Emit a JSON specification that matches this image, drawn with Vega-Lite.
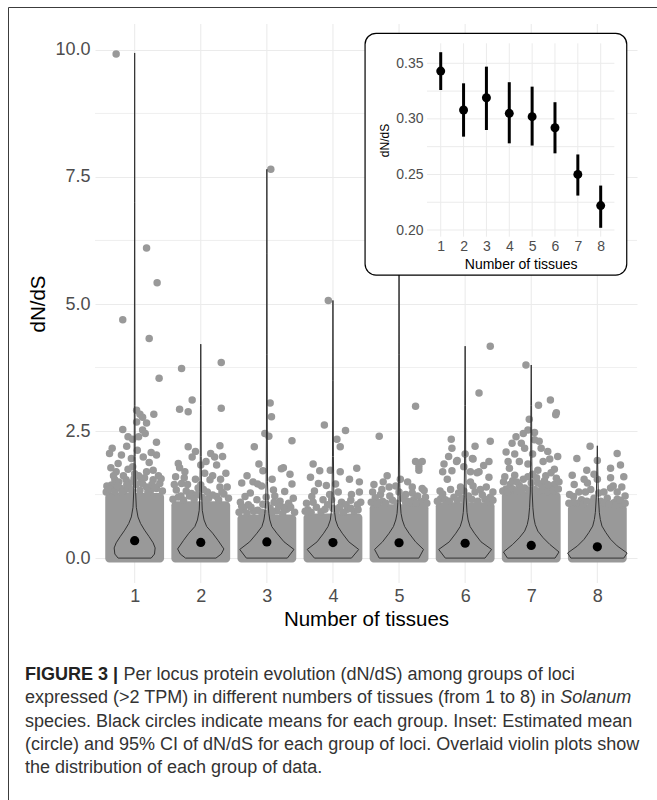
{
  "$schema": "https://vega.github.io/schema/vega-lite/v6.json",
  "width": 649,
  "height": 793,
  "autosize": {"type": "none"},
  "padding": {"left": 8, "top": 7, "right": 0, "bottom": 0},
  "background": "white",
  "config": {"view": {"stroke": "#3c3c3c", "strokeWidth": 1}, "font": "Liberation Sans"},
  "datasets": {
    "minor": [{"y": 1.25}, {"y": 3.75}, {"y": 6.25}, {"y": 8.75}],
    "dense": [
      {"g": 1, "xl": 0.555, "xr": 1.445, "yl": -0.085, "yh": 1.28},
      {"g": 2, "xl": 1.555, "xr": 2.445, "yl": -0.085, "yh": 1.12},
      {"g": 3, "xl": 2.555, "xr": 3.445, "yl": -0.085, "yh": 0.86},
      {"g": 4, "xl": 3.555, "xr": 4.445, "yl": -0.085, "yh": 0.88},
      {"g": 5, "xl": 4.555, "xr": 5.445, "yl": -0.085, "yh": 1.06},
      {"g": 6, "xl": 5.555, "xr": 6.445, "yl": -0.085, "yh": 1.10},
      {"g": 7, "xl": 6.555, "xr": 7.445, "yl": -0.085, "yh": 1.30},
      {"g": 8, "xl": 7.555, "xr": 8.445, "yl": -0.085, "yh": 1.05}
    ],
    "pts": [
      {"x":0.72,"y":9.92},{"x":1.18,"y":6.10},{"x":1.34,"y":5.42},{"x":0.82,"y":4.69},{"x":1.22,"y":4.32},{"x":1.37,"y":3.54},
      {"x":0.82,"y":2.53},{"x":0.90,"y":2.39},{"x":0.97,"y":2.34},{"x":1.03,"y":2.91},{"x":1.08,"y":2.83},{"x":1.12,"y":2.77},{"x":1.03,"y":2.68},{"x":1.18,"y":2.66},{"x":1.12,"y":2.52},{"x":1.29,"y":2.83},{"x":1.06,"y":2.39},{"x":0.66,"y":2.16},{"x":0.62,"y":2.06},{"x":1.33,"y":2.28},{"x":1.33,"y":2.03},{"x":0.80,"y":2.03},{"x":0.95,"y":1.96},{"x":1.13,"y":1.99},{"x":0.72,"y":1.70},{"x":0.70,"y":1.54},{"x":0.87,"y":1.54},{"x":0.97,"y":1.80},{"x":1.18,"y":1.70},{"x":1.28,"y":1.73},{"x":1.10,"y":1.54},{"x":1.28,"y":1.54},{"x":1.33,"y":1.37},{"x":0.75,"y":1.86},{"x":0.65,"y":1.44},{"x":1.38,"y":1.47},{"x":0.85,"y":1.34},{"x":1.18,"y":1.40},{"x":0.60,"y":1.33},{"x":0.78,"y":1.38},{"x":0.93,"y":1.36},{"x":1.02,"y":1.45},{"x":1.24,"y":1.33},{"x":1.06,"y":1.62},{"x":0.83,"y":1.62},{"x":1.22,"y":1.88},{"x":0.90,"y":1.75},
      {"x":0.58,"y":1.42},{"x":0.68,"y":1.62},{"x":0.76,"y":1.50},{"x":0.92,"y":1.48},{"x":1.00,"y":1.66},{"x":1.15,"y":1.58},{"x":1.26,"y":1.45},{"x":1.36,"y":1.62},{"x":0.64,"y":1.78},{"x":1.04,"y":2.12},{"x":1.25,"y":2.08},{"x":0.88,"y":2.20},{"x":1.16,"y":2.45},
      {"x":0.57,"y":1.30},{"x":0.63,"y":1.36},{"x":0.70,"y":1.31},{"x":0.74,"y":1.42},{"x":0.81,"y":1.30},{"x":0.88,"y":1.44},{"x":0.96,"y":1.31},{"x":1.08,"y":1.33},{"x":1.12,"y":1.46},{"x":1.20,"y":1.30},{"x":1.30,"y":1.40},{"x":1.42,"y":1.32},{"x":1.40,"y":1.56},{"x":0.99,"y":1.56},
      {"x":1.71,"y":3.73},{"x":2.31,"y":3.85},{"x":1.87,"y":3.11},{"x":1.68,"y":2.93},{"x":1.81,"y":2.88},{"x":2.31,"y":2.95},{"x":1.81,"y":2.19},{"x":2.29,"y":2.21},{"x":1.66,"y":1.86},{"x":1.87,"y":1.99},{"x":2.00,"y":1.83},{"x":2.15,"y":2.06},{"x":2.21,"y":1.99},{"x":2.24,"y":1.83},{"x":2.38,"y":1.67},{"x":1.76,"y":1.70},{"x":2.06,"y":1.67},{"x":2.14,"y":1.54},{"x":1.62,"y":1.60},{"x":1.71,"y":1.47},{"x":2.29,"y":1.40},{"x":2.00,"y":1.44},{"x":1.86,"y":1.27},{"x":2.24,"y":1.21},{"x":1.63,"y":1.34},{"x":1.70,"y":1.22},{"x":1.95,"y":1.25},{"x":2.10,"y":1.30},{"x":2.35,"y":1.26},{"x":1.80,"y":1.45},{"x":2.12,"y":1.18},
      {"x":1.60,"y":1.45},{"x":1.75,"y":1.58},{"x":1.92,"y":1.55},{"x":2.04,"y":1.35},{"x":2.18,"y":1.62},{"x":2.30,"y":1.55},{"x":2.40,"y":1.40},{"x":1.68,"y":1.78},{"x":2.08,"y":1.90},{"x":1.92,"y":2.10},{"x":2.33,"y":2.00},
      {"x":1.58,"y":1.16},{"x":1.66,"y":1.20},{"x":1.74,"y":1.14},{"x":1.83,"y":1.22},{"x":1.90,"y":1.16},{"x":2.02,"y":1.20},{"x":2.08,"y":1.14},{"x":2.18,"y":1.24},{"x":2.27,"y":1.15},{"x":2.32,"y":1.30},{"x":2.42,"y":1.18},{"x":1.96,"y":1.38},{"x":1.78,"y":1.32},
      {"x":3.06,"y":7.65},{"x":3.05,"y":3.05},{"x":3.07,"y":2.78},{"x":2.97,"y":2.45},{"x":3.03,"y":2.40},{"x":2.81,"y":2.19},{"x":3.38,"y":2.31},{"x":3.25,"y":1.78},{"x":2.94,"y":1.72},{"x":2.62,"y":1.48},{"x":2.79,"y":1.50},{"x":2.86,"y":1.46},{"x":2.92,"y":1.42},{"x":3.38,"y":1.46},{"x":3.10,"y":1.34},{"x":3.27,"y":1.31},{"x":2.67,"y":1.21},{"x":2.85,"y":1.15},{"x":2.72,"y":1.05},{"x":3.20,"y":1.12},{"x":3.33,"y":1.08},{"x":2.99,"y":1.20},{"x":2.65,"y":0.95},{"x":2.80,"y":0.92},{"x":3.05,"y":0.98},{"x":3.15,"y":0.93},{"x":3.30,"y":0.96},{"x":2.92,"y":0.90},{"x":3.36,"y":1.00},{"x":3.22,"y":1.76},
      {"x":2.60,"y":1.10},{"x":2.75,"y":1.28},{"x":3.00,"y":1.05},{"x":3.12,"y":1.22},{"x":3.25,"y":1.00},{"x":3.40,"y":1.18},{"x":2.70,"y":1.62},{"x":3.08,"y":1.55},{"x":3.35,"y":1.65},{"x":2.88,"y":1.85},
      {"x":2.58,"y":0.90},{"x":2.70,"y":0.88},{"x":2.76,"y":1.00},{"x":2.86,"y":0.94},{"x":2.98,"y":0.88},{"x":3.08,"y":0.90},{"x":3.18,"y":1.02},{"x":3.24,"y":0.88},{"x":3.42,"y":0.90},{"x":2.62,"y":1.02},{"x":3.11,"y":1.10},{"x":2.94,"y":1.06},
      {"x":3.93,"y":5.07},{"x":3.87,"y":2.62},{"x":4.19,"y":2.51},{"x":4.06,"y":2.34},{"x":4.11,"y":2.19},{"x":4.36,"y":1.77},{"x":3.66,"y":1.59},{"x":3.96,"y":1.73},{"x":4.11,"y":1.70},{"x":3.78,"y":1.47},{"x":3.90,"y":1.43},{"x":4.04,"y":1.46},{"x":3.68,"y":1.21},{"x":3.85,"y":1.15},{"x":4.28,"y":1.25},{"x":4.13,"y":1.10},{"x":4.37,"y":1.05},{"x":4.27,"y":1.14},{"x":3.62,"y":0.95},{"x":3.75,"y":1.00},{"x":4.00,"y":0.98},{"x":4.22,"y":0.96},{"x":4.32,"y":0.92},{"x":3.92,"y":1.05},
      {"x":3.60,"y":1.08},{"x":3.72,"y":1.32},{"x":3.95,"y":1.25},{"x":4.08,"y":1.30},{"x":4.20,"y":1.05},{"x":4.40,"y":1.30},{"x":3.80,"y":1.72},{"x":4.25,"y":1.55},{"x":4.40,"y":1.50},{"x":3.70,"y":1.85},
      {"x":3.58,"y":0.92},{"x":3.67,"y":0.90},{"x":3.82,"y":0.91},{"x":3.88,"y":0.96},{"x":4.05,"y":0.91},{"x":4.10,"y":1.00},{"x":4.16,"y":0.90},{"x":4.27,"y":0.98},{"x":4.38,"y":0.95},{"x":4.42,"y":1.10},{"x":3.70,"y":1.10},{"x":3.98,"y":1.15},
      {"x":5.25,"y":2.99},{"x":4.70,"y":2.40},{"x":5.25,"y":1.90},{"x":5.35,"y":1.90},{"x":5.30,"y":1.80},{"x":5.30,"y":1.73},{"x":4.76,"y":1.50},{"x":4.85,"y":1.40},{"x":4.95,"y":1.42},{"x":5.13,"y":1.50},{"x":5.35,"y":1.37},{"x":5.38,"y":1.33},{"x":4.64,"y":1.19},{"x":4.75,"y":1.12},{"x":5.13,"y":1.12},{"x":5.22,"y":1.15},{"x":5.18,"y":1.08},{"x":5.32,"y":1.10},{"x":4.95,"y":6.30},{"x":4.68,"y":1.10},{"x":4.90,"y":1.14},{"x":5.05,"y":1.18},{"x":5.28,"y":1.22},
      {"x":4.60,"y":1.30},{"x":4.72,"y":1.25},{"x":5.00,"y":1.30},{"x":5.10,"y":1.25},{"x":5.40,"y":1.20},{"x":4.82,"y":1.62},{"x":5.02,"y":1.55},{"x":5.20,"y":1.40},{"x":4.62,"y":1.45},
      {"x":4.58,"y":1.10},{"x":4.66,"y":1.06},{"x":4.80,"y":1.08},{"x":4.86,"y":1.22},{"x":4.97,"y":1.08},{"x":5.10,"y":1.10},{"x":5.20,"y":1.28},{"x":5.26,"y":1.08},{"x":5.36,"y":1.12},{"x":5.42,"y":1.08},{"x":4.74,"y":1.35},
      {"x":6.38,"y":4.17},{"x":6.21,"y":3.25},{"x":5.79,"y":2.34},{"x":5.80,"y":2.16},{"x":6.38,"y":2.30},{"x":6.15,"y":2.20},{"x":6.11,"y":1.96},{"x":5.88,"y":1.92},{"x":6.36,"y":1.90},{"x":5.66,"y":1.70},{"x":5.80,"y":1.72},{"x":5.98,"y":1.80},{"x":6.08,"y":1.70},{"x":6.21,"y":1.70},{"x":6.36,"y":1.59},{"x":5.73,"y":1.55},{"x":5.93,"y":1.40},{"x":6.08,"y":1.50},{"x":5.63,"y":1.17},{"x":5.83,"y":1.20},{"x":6.23,"y":1.35},{"x":6.38,"y":1.20},{"x":5.87,"y":1.90},{"x":6.12,"y":1.95},{"x":6.18,"y":1.68},{"x":5.70,"y":1.15},{"x":5.95,"y":1.18},{"x":6.05,"y":1.22},{"x":6.30,"y":1.16},
      {"x":5.62,"y":1.32},{"x":5.78,"y":1.35},{"x":5.90,"y":1.28},{"x":6.15,"y":1.30},{"x":6.32,"y":1.40},{"x":6.42,"y":1.30},{"x":5.68,"y":1.85},{"x":6.00,"y":2.05},{"x":6.28,"y":1.82},{"x":5.75,"y":2.00},
      {"x":5.58,"y":1.12},{"x":5.66,"y":1.26},{"x":5.76,"y":1.12},{"x":5.88,"y":1.14},{"x":6.00,"y":1.12},{"x":6.10,"y":1.16},{"x":6.19,"y":1.12},{"x":6.26,"y":1.24},{"x":6.35,"y":1.10},{"x":6.42,"y":1.14},{"x":5.98,"y":1.32},{"x":6.12,"y":1.42},
      {"x":6.92,"y":3.80},{"x":7.11,"y":3.01},{"x":7.29,"y":3.11},{"x":7.37,"y":2.82},{"x":7.38,"y":2.86},{"x":6.97,"y":2.73},{"x":6.95,"y":2.52},{"x":6.88,"y":2.45},{"x":7.05,"y":2.47},{"x":6.71,"y":2.26},{"x":6.77,"y":2.39},{"x":6.62,"y":2.09},{"x":6.85,"y":2.26},{"x":6.90,"y":2.16},{"x":7.05,"y":2.33},{"x":7.12,"y":2.30},{"x":7.15,"y":2.16},{"x":7.25,"y":2.10},{"x":6.82,"y":1.90},{"x":7.18,"y":1.90},{"x":6.67,"y":1.77},{"x":7.35,"y":1.75},{"x":7.10,"y":1.73},{"x":6.60,"y":1.60},{"x":6.75,"y":1.63},{"x":6.95,"y":1.60},{"x":7.08,"y":1.58},{"x":7.22,"y":1.62},{"x":7.38,"y":1.57},{"x":6.68,"y":1.45},{"x":6.82,"y":1.43},{"x":7.00,"y":1.48},{"x":7.15,"y":1.45},{"x":7.35,"y":1.45},{"x":6.62,"y":1.36},{"x":6.90,"y":1.38},{"x":7.05,"y":1.35},{"x":7.28,"y":1.37},
      {"x":6.58,"y":1.50},{"x":6.72,"y":1.52},{"x":6.88,"y":1.55},{"x":7.02,"y":1.65},{"x":7.20,"y":1.52},{"x":7.30,"y":1.68},{"x":7.42,"y":1.50},{"x":6.65,"y":1.90},{"x":6.95,"y":1.85},{"x":7.28,"y":1.95},{"x":6.75,"y":2.05},{"x":7.02,"y":2.05},{"x":7.40,"y":2.00},
      {"x":6.57,"y":1.32},{"x":6.64,"y":1.30},{"x":6.72,"y":1.36},{"x":6.78,"y":1.32},{"x":6.86,"y":1.31},{"x":6.97,"y":1.34},{"x":7.12,"y":1.32},{"x":7.18,"y":1.36},{"x":7.24,"y":1.31},{"x":7.34,"y":1.33},{"x":7.41,"y":1.36},{"x":6.78,"y":1.50},{"x":7.10,"y":1.48},{"x":7.25,"y":1.45},
      {"x":7.89,"y":2.20},{"x":7.69,"y":1.96},{"x":8.00,"y":1.92},{"x":8.30,"y":2.06},{"x":8.35,"y":1.83},{"x":8.20,"y":1.77},{"x":7.62,"y":1.63},{"x":7.84,"y":1.73},{"x":7.80,"y":1.55},{"x":7.85,"y":1.48},{"x":8.20,"y":1.58},{"x":8.37,"y":1.40},{"x":8.20,"y":1.38},{"x":8.10,"y":1.30},{"x":7.64,"y":1.21},{"x":7.76,"y":1.15},{"x":7.95,"y":1.18},{"x":8.30,"y":1.16},{"x":7.70,"y":1.08},{"x":7.90,"y":1.10},{"x":8.05,"y":1.12},{"x":8.25,"y":1.09},{"x":8.38,"y":1.05},
      {"x":7.58,"y":1.25},{"x":7.72,"y":1.30},{"x":7.90,"y":1.35},{"x":8.02,"y":1.28},{"x":8.15,"y":1.18},{"x":8.30,"y":1.30},{"x":8.42,"y":1.22},{"x":7.65,"y":1.45},{"x":8.00,"y":1.55},{"x":8.40,"y":1.60},{"x":7.95,"y":1.65},
      {"x":7.57,"y":1.08},{"x":7.64,"y":1.10},{"x":7.78,"y":1.06},{"x":7.84,"y":1.12},{"x":7.98,"y":1.06},{"x":8.10,"y":1.08},{"x":8.18,"y":1.06},{"x":8.28,"y":1.04},{"x":8.35,"y":1.14},{"x":8.42,"y":1.08},{"x":7.82,"y":1.30},{"x":8.24,"y":1.42}
    ],
    "violin": [
      {"g":1,"y":0.0,"xl":0.75,"xr":1.25},{"g":1,"y":0.08,"xl":0.70,"xr":1.30},{"g":1,"y":0.2,"xl":0.69,"xr":1.31},{"g":1,"y":0.3,"xl":0.72,"xr":1.28},{"g":1,"y":0.42,"xl":0.78,"xr":1.22},{"g":1,"y":0.55,"xl":0.85,"xr":1.15},{"g":1,"y":0.68,"xl":0.91,"xr":1.09},{"g":1,"y":0.81,"xl":0.95,"xr":1.05},{"g":1,"y":1.0,"xl":0.975,"xr":1.025},{"g":1,"y":1.34,"xl":0.987,"xr":1.013},{"g":1,"y":2.0,"xl":0.993,"xr":1.007},{"g":1,"y":3.0,"xl":0.995,"xr":1.005},{"g":1,"y":5.0,"xl":0.997,"xr":1.003},{"g":1,"y":7.0,"xl":0.998,"xr":1.002},{"g":1,"y":9.94,"xl":1,"xr":1},
      {"g":2,"y":0.0,"xl":1.77,"xr":2.23},{"g":2,"y":0.08,"xl":1.69,"xr":2.31},{"g":2,"y":0.18,"xl":1.65,"xr":2.35},{"g":2,"y":0.35,"xl":1.74,"xr":2.26},{"g":2,"y":0.49,"xl":1.82,"xr":2.18},{"g":2,"y":0.62,"xl":1.91,"xr":2.09},{"g":2,"y":0.75,"xl":1.95,"xr":2.05},{"g":2,"y":0.94,"xl":1.977,"xr":2.023},{"g":2,"y":1.3,"xl":1.988,"xr":2.012},{"g":2,"y":2.0,"xl":1.993,"xr":2.007},{"g":2,"y":3.0,"xl":1.996,"xr":2.004},{"g":2,"y":4.21,"xl":2,"xr":2},
      {"g":3,"y":0.0,"xl":2.69,"xr":3.31},{"g":3,"y":0.17,"xl":2.59,"xr":3.41},{"g":3,"y":0.32,"xl":2.74,"xr":3.26},{"g":3,"y":0.49,"xl":2.85,"xr":3.15},{"g":3,"y":0.62,"xl":2.925,"xr":3.075},{"g":3,"y":0.75,"xl":2.955,"xr":3.045},{"g":3,"y":0.88,"xl":2.97,"xr":3.03},{"g":3,"y":1.1,"xl":2.982,"xr":3.018},{"g":3,"y":1.5,"xl":2.99,"xr":3.01},{"g":3,"y":2.5,"xl":2.994,"xr":3.006},{"g":3,"y":4.0,"xl":2.996,"xr":3.004},{"g":3,"y":6.0,"xl":2.998,"xr":3.002},{"g":3,"y":7.65,"xl":3,"xr":3},
      {"g":4,"y":0.0,"xl":3.72,"xr":4.28},{"g":4,"y":0.17,"xl":3.61,"xr":4.39},{"g":4,"y":0.32,"xl":3.76,"xr":4.24},{"g":4,"y":0.49,"xl":3.86,"xr":4.14},{"g":4,"y":0.62,"xl":3.925,"xr":4.075},{"g":4,"y":0.75,"xl":3.96,"xr":4.04},{"g":4,"y":0.9,"xl":3.975,"xr":4.025},{"g":4,"y":1.2,"xl":3.986,"xr":4.014},{"g":4,"y":2.0,"xl":3.993,"xr":4.007},{"g":4,"y":3.5,"xl":3.996,"xr":4.004},{"g":4,"y":5.07,"xl":4,"xr":4},
      {"g":5,"y":0.0,"xl":4.70,"xr":5.30},{"g":5,"y":0.17,"xl":4.63,"xr":5.37},{"g":5,"y":0.32,"xl":4.75,"xr":5.25},{"g":5,"y":0.49,"xl":4.85,"xr":5.15},{"g":5,"y":0.62,"xl":4.915,"xr":5.085},{"g":5,"y":0.75,"xl":4.95,"xr":5.05},{"g":5,"y":0.88,"xl":4.97,"xr":5.03},{"g":5,"y":1.1,"xl":4.982,"xr":5.018},{"g":5,"y":1.5,"xl":4.99,"xr":5.01},{"g":5,"y":2.5,"xl":4.994,"xr":5.006},{"g":5,"y":4.0,"xl":4.996,"xr":5.004},{"g":5,"y":6.3,"xl":5,"xr":5},
      {"g":6,"y":0.0,"xl":5.70,"xr":6.30},{"g":6,"y":0.17,"xl":5.60,"xr":6.40},{"g":6,"y":0.32,"xl":5.76,"xr":6.24},{"g":6,"y":0.49,"xl":5.86,"xr":6.14},{"g":6,"y":0.62,"xl":5.925,"xr":6.075},{"g":6,"y":0.75,"xl":5.955,"xr":6.045},{"g":6,"y":0.9,"xl":5.972,"xr":6.028},{"g":6,"y":1.2,"xl":5.985,"xr":6.015},{"g":6,"y":2.0,"xl":5.992,"xr":6.008},{"g":6,"y":3.0,"xl":5.995,"xr":6.005},{"g":6,"y":4.17,"xl":6,"xr":6},
      {"g":7,"y":0.0,"xl":6.64,"xr":7.36},{"g":7,"y":0.12,"xl":6.58,"xr":7.42},{"g":7,"y":0.27,"xl":6.72,"xr":7.28},{"g":7,"y":0.40,"xl":6.82,"xr":7.18},{"g":7,"y":0.53,"xl":6.90,"xr":7.10},{"g":7,"y":0.66,"xl":6.94,"xr":7.06},{"g":7,"y":0.79,"xl":6.96,"xr":7.04},{"g":7,"y":0.99,"xl":6.975,"xr":7.025},{"g":7,"y":1.3,"xl":6.986,"xr":7.014},{"g":7,"y":2.0,"xl":6.992,"xr":7.008},{"g":7,"y":3.0,"xl":6.995,"xr":7.005},{"g":7,"y":3.80,"xl":7,"xr":7},
      {"g":8,"y":0.0,"xl":7.60,"xr":8.40},{"g":8,"y":0.10,"xl":7.55,"xr":8.45},{"g":8,"y":0.24,"xl":7.70,"xr":8.30},{"g":8,"y":0.37,"xl":7.80,"xr":8.20},{"g":8,"y":0.50,"xl":7.87,"xr":8.13},{"g":8,"y":0.63,"xl":7.93,"xr":8.07},{"g":8,"y":0.76,"xl":7.955,"xr":8.045},{"g":8,"y":0.9,"xl":7.97,"xr":8.03},{"g":8,"y":1.2,"xl":7.984,"xr":8.016},{"g":8,"y":1.6,"xl":7.991,"xr":8.009},{"g":8,"y":2.21,"xl":8,"xr":8}
    ],
    "means": [
      {"g":1,"m":0.343,"lo":0.326,"hi":0.360},{"g":2,"m":0.308,"lo":0.284,"hi":0.332},{"g":3,"m":0.319,"lo":0.290,"hi":0.347},{"g":4,"m":0.305,"lo":0.278,"hi":0.333},
      {"g":5,"m":0.302,"lo":0.276,"hi":0.329},{"g":6,"m":0.292,"lo":0.269,"hi":0.315},{"g":7,"m":0.250,"lo":0.231,"hi":0.268},{"g":8,"m":0.222,"lo":0.202,"hi":0.240}
    ],
    "insetbox": [{"x0": -2.31, "x1": 9.14, "y0": 0.1595, "y1": 0.377}],
    "igrid": [{"y":0.20},{"y":0.225},{"y":0.25},{"y":0.275},{"y":0.30},{"y":0.325},{"y":0.35}],
    "capB": [{"line":1,"col":0,"txt":"FIGURE 3 |"}],
    "capR": [
      {"line":1,"col":0.164,"txt":"Per locus protein evolution (dN/dS) among groups of loci"},
      {"line":2,"col":0,"txt":"expressed (>2 TPM) in different numbers of tissues (from 1 to 8) in"},
      {"line":3,"col":0,"txt":"species. Black circles indicate means for each group. Inset: Estimated mean"},
      {"line":4,"col":0,"txt":"(circle) and 95% CI of dN/dS for each group of loci. Overlaid violin plots show"},
      {"line":5,"col":0,"txt":"the distribution of each group of data."}
    ],
    "capI": [{"line":2,"col":0.892,"txt":"Solanum"}]
  },
  "resolve": {"scale": {"x": "independent", "y": "independent"}, "axis": {"x": "independent", "y": "independent"}},
  "layer": [
    {
      "data": {"name": "means"},
      "mark": {"type": "rule", "color": "#ebebeb", "strokeWidth": 1.1},
      "encoding": {
        "x": {"field": "g", "type": "quantitative", "scale": {"domain": [0.4, 8.6], "range": [87, 629], "nice": false, "zero": false}, "axis": null},
        "y": {"datum": -0.49, "type": "quantitative", "scale": {"domain": [-0.49, 10.51], "range": [576, 17], "nice": false, "zero": false}, "axis": null},
        "y2": {"datum": 10.51}
      }
    },
    {
      "data": {"name": "minor"},
      "mark": {"type": "rule", "color": "#ebebeb", "strokeWidth": 0.8},
      "encoding": {
        "x": {"datum": 0.4, "type": "quantitative", "scale": {"domain": [0.4, 8.6], "range": [87, 629], "nice": false, "zero": false}, "axis": null},
        "x2": {"datum": 8.6},
        "y": {"field": "y", "type": "quantitative", "scale": {"domain": [-0.49, 10.51], "range": [576, 17], "nice": false, "zero": false}, "axis": null}
      }
    },
    {
      "data": {"name": "dense"},
      "mark": {"type": "rect", "color": "#999999", "cornerRadius": 4},
      "encoding": {
        "x": {"field": "xl", "type": "quantitative", "scale": {"domain": [0.4, 8.6], "range": [87, 629], "nice": false, "zero": false}, "axis": null},
        "x2": {"field": "xr"},
        "y": {"field": "yl", "type": "quantitative", "scale": {"domain": [-0.49, 10.51], "range": [576, 17], "nice": false, "zero": false}, "axis": null},
        "y2": {"field": "yh"}
      }
    },
    {
      "data": {"name": "pts"},
      "mark": {"type": "circle", "color": "#999999", "opacity": 1, "size": 56},
      "encoding": {
        "x": {"field": "x", "type": "quantitative", "scale": {"domain": [0.4, 8.6], "range": [87, 629], "nice": false, "zero": false},
          "axis": {"orient": "bottom", "offset": -217, "values": [1,2,3,4,5,6,7,8], "format": "d", "title": "Number of tissues", "domain": false, "ticks": false, "grid": false, "labelFontSize": 18, "labelColor": "#4d4d4d", "labelPadding": 4, "labelFlush": false, "labelOverlap": false, "titleFontSize": 20.5, "titleFontWeight": "normal", "titleColor": "#000000", "titlePadding": 4}},
        "y": {"field": "y", "type": "quantitative", "scale": {"domain": [-0.49, 10.51], "range": [576, 17], "nice": false, "zero": false},
          "axis": {"orient": "left", "offset": -87, "values": [0, 2.5, 5, 7.5, 10], "format": ".1f", "title": "dN/dS", "domain": false, "ticks": false, "grid": true, "gridColor": "#ebebeb", "gridWidth": 1.1, "labelFontSize": 18, "labelColor": "#4d4d4d", "labelPadding": 5, "labelFlush": false, "labelOverlap": false, "titleFontSize": 20.5, "titleFontWeight": "normal", "titleColor": "#000000", "titlePadding": 6}}
      }
    },
    {
      "data": {"name": "violin"},
      "mark": {"type": "area", "orient": "horizontal", "fill": "transparent", "stroke": "#333333", "strokeWidth": 1},
      "encoding": {
        "y": {"field": "y", "type": "quantitative", "scale": {"domain": [-0.49, 10.51], "range": [576, 17], "nice": false, "zero": false}, "axis": null},
        "x": {"field": "xl", "type": "quantitative", "scale": {"domain": [0.4, 8.6], "range": [87, 629], "nice": false, "zero": false}, "axis": null},
        "x2": {"field": "xr"},
        "detail": {"field": "g"}
      }
    },
    {
      "data": {"name": "means"},
      "mark": {"type": "circle", "color": "#000000", "opacity": 1, "size": 85},
      "encoding": {
        "x": {"field": "g", "type": "quantitative", "scale": {"domain": [0.4, 8.6], "range": [87, 629], "nice": false, "zero": false}, "axis": null},
        "y": {"field": "m", "type": "quantitative", "scale": {"domain": [-0.49, 10.51], "range": [576, 17], "nice": false, "zero": false}, "axis": null}
      }
    },
    {
      "data": {"name": "insetbox"},
      "mark": {"type": "rect", "fill": "white", "stroke": "#000000", "strokeWidth": 1.2, "cornerRadius": 11},
      "encoding": {
        "x": {"field": "x0", "type": "quantitative", "scale": {"domain": [0.4, 8.6], "range": [419, 606.4], "nice": false, "zero": false}, "axis": null},
        "x2": {"field": "x1"},
        "y": {"field": "y0", "type": "quantitative", "scale": {"domain": [0.194, 0.368], "range": [229.7, 36.3], "nice": false, "zero": false}, "axis": null},
        "y2": {"field": "y1"}
      }
    },
    {
      "data": {"name": "means"},
      "mark": {"type": "rule", "color": "#ebebeb", "strokeWidth": 1},
      "encoding": {
        "x": {"field": "g", "type": "quantitative", "scale": {"domain": [0.4, 8.6], "range": [419, 606.4], "nice": false, "zero": false}, "axis": null},
        "y": {"datum": 0.194, "type": "quantitative", "scale": {"domain": [0.194, 0.368], "range": [229.7, 36.3], "nice": false, "zero": false}, "axis": null},
        "y2": {"datum": 0.368}
      }
    },
    {
      "data": {"name": "igrid"},
      "mark": {"type": "rule", "color": "#ebebeb", "strokeWidth": 1},
      "encoding": {
        "x": {"datum": 0.4, "type": "quantitative", "scale": {"domain": [0.4, 8.6], "range": [419, 606.4], "nice": false, "zero": false}, "axis": null},
        "x2": {"datum": 8.6},
        "y": {"field": "y", "type": "quantitative", "scale": {"domain": [0.194, 0.368], "range": [229.7, 36.3], "nice": false, "zero": false}, "axis": null}
      }
    },
    {
      "data": {"name": "means"},
      "mark": {"type": "rule", "color": "#000000", "strokeWidth": 3},
      "encoding": {
        "x": {"field": "g", "type": "quantitative", "scale": {"domain": [0.4, 8.6], "range": [419, 606.4], "nice": false, "zero": false},
          "axis": {"orient": "bottom", "offset": -563.3, "values": [1,2,3,4,5,6,7,8], "format": "d", "title": "Number of tissues", "domain": false, "ticks": false, "grid": false, "labelFontSize": 14, "labelColor": "#4d4d4d", "labelPadding": 2.5, "labelFlush": false, "labelOverlap": false, "titleFontSize": 14, "titleFontWeight": "normal", "titleColor": "#000000", "titlePadding": 4, "zindex": 1}},
        "y": {"field": "lo", "type": "quantitative", "scale": {"domain": [0.194, 0.368], "range": [229.7, 36.3], "nice": false, "zero": false},
          "axis": {"orient": "left", "offset": -419, "values": [0.2, 0.25, 0.3, 0.35], "format": ".2f", "title": "dN/dS", "domain": false, "ticks": false, "grid": false, "labelFontSize": 14, "labelColor": "#4d4d4d", "labelPadding": 4, "labelFlush": false, "labelOverlap": false, "titleFontSize": 12, "titleFontWeight": "normal", "titleColor": "#000000", "titlePadding": 4, "zindex": 1}},
        "y2": {"field": "hi"}
      }
    },
    {
      "data": {"name": "means"},
      "mark": {"type": "circle", "color": "#000000", "opacity": 1, "size": 80},
      "encoding": {
        "x": {"field": "g", "type": "quantitative", "scale": {"domain": [0.4, 8.6], "range": [419, 606.4], "nice": false, "zero": false}, "axis": null},
        "y": {"field": "m", "type": "quantitative", "scale": {"domain": [0.194, 0.368], "range": [229.7, 36.3], "nice": false, "zero": false}, "axis": null}
      }
    },
    {
      "data": {"name": "capB"},
      "mark": {"type": "text", "align": "left", "baseline": "middle", "fontSize": 18, "fontWeight": "bold", "color": "#222222"},
      "encoding": {
        "x": {"field": "col", "type": "quantitative", "scale": {"domain": [0, 1], "range": [17, 617], "nice": false, "zero": false}, "axis": null},
        "y": {"field": "line", "type": "quantitative", "scale": {"domain": [1, 5], "range": [668, 761], "nice": false, "zero": false}, "axis": null},
        "text": {"field": "txt"}
      }
    },
    {
      "data": {"name": "capR"},
      "mark": {"type": "text", "align": "left", "baseline": "middle", "fontSize": 18, "color": "#333333"},
      "encoding": {
        "x": {"field": "col", "type": "quantitative", "scale": {"domain": [0, 1], "range": [17, 617], "nice": false, "zero": false}, "axis": null},
        "y": {"field": "line", "type": "quantitative", "scale": {"domain": [1, 5], "range": [668, 761], "nice": false, "zero": false}, "axis": null},
        "text": {"field": "txt"}
      }
    },
    {
      "data": {"name": "capI"},
      "mark": {"type": "text", "align": "left", "baseline": "middle", "fontSize": 18, "fontStyle": "italic", "color": "#333333"},
      "encoding": {
        "x": {"field": "col", "type": "quantitative", "scale": {"domain": [0, 1], "range": [17, 617], "nice": false, "zero": false}, "axis": null},
        "y": {"field": "line", "type": "quantitative", "scale": {"domain": [1, 5], "range": [668, 761], "nice": false, "zero": false}, "axis": null},
        "text": {"field": "txt"}
      }
    }
  ]
}
